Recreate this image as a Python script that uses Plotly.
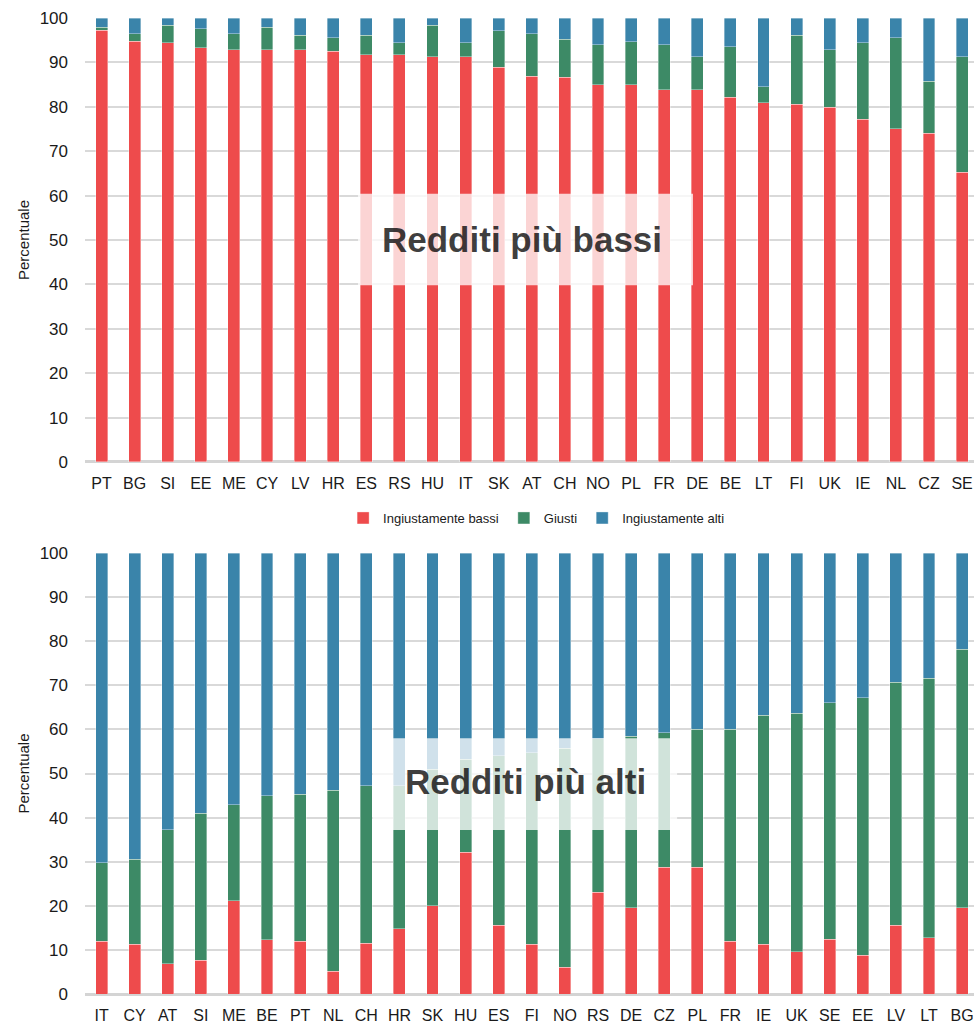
import plotly.graph_objects as go

# ---------------- data ----------------
top_countries = ["PT", "BG", "SI", "EE", "ME", "CY", "LV", "HR", "ES", "RS", "HU", "IT", "SK", "AT",
                 "CH", "NO", "PL", "FR", "DE", "BE", "LT", "FI", "UK", "IE", "NL", "CZ", "SE"]
top_low = [97.2, 94.8, 94.4, 93.3, 92.9, 92.9, 92.9, 92.5, 91.7, 91.7, 91.3, 91.3, 88.9, 86.9,
           86.6, 85.0, 85.0, 83.8, 83.8, 82.1, 80.9, 80.6, 79.9, 77.2, 75.1, 74.0, 65.3]
top_fair = [0.7, 1.6, 4.0, 4.3, 3.5, 5.0, 3.2, 3.1, 4.4, 2.7, 7.1, 3.1, 8.2, 9.5,
            8.6, 9.0, 9.7, 10.2, 7.5, 11.4, 3.6, 15.5, 13.0, 17.2, 20.5, 11.7, 26.0]
top_high = [2.1, 3.6, 1.6, 2.4, 3.6, 2.1, 3.9, 4.4, 3.9, 5.6, 1.6, 5.6, 2.9, 3.6,
            4.8, 6.0, 5.3, 6.0, 8.7, 6.5, 15.5, 3.9, 7.1, 5.6, 4.4, 14.3, 8.7]

bot_countries = ["IT", "CY", "AT", "SI", "ME", "BE", "PT", "NL", "CH", "HR", "SK", "HU", "ES", "FI",
                 "NO", "RS", "DE", "CZ", "PL", "FR", "IE", "UK", "SE", "EE", "LV", "LT", "BG"]
bot_low = [12.0, 11.3, 6.9, 7.6, 21.1, 12.3, 12.0, 5.2, 11.5, 14.8, 20.0, 32.2, 15.6, 11.3,
           6.1, 23.1, 19.6, 28.7, 28.7, 12.0, 11.3, 9.6, 12.4, 8.8, 15.6, 12.8, 19.6]
bot_fair = [17.8, 19.3, 30.4, 33.4, 21.8, 32.7, 33.3, 41.0, 35.7, 32.4, 31.0, 21.0, 38.4, 43.4,
            49.6, 34.8, 38.9, 30.6, 31.3, 48.0, 51.9, 54.1, 53.6, 58.4, 55.1, 58.8, 58.6]
bot_high = [70.2, 69.4, 62.7, 59.0, 57.1, 55.0, 54.7, 53.8, 52.8, 52.8, 49.0, 46.8, 46.0, 45.3,
            44.3, 42.1, 41.5, 40.7, 40.0, 40.0, 36.8, 36.3, 34.0, 32.8, 29.3, 28.4, 21.8]

series_names = ["Ingiustamente bassi", "Giusti", "Ingiustamente alti"]
colors = ["#EE4B4C", "#3D8A66", "#3A84AA"]
panel_titles = ["Redditi più bassi", "Redditi più alti"]

FONT = "Liberation Sans, Arial, Helvetica, sans-serif"

fig = go.Figure()

panels = [
    (top_countries, [top_low, top_fair, top_high], "x", "y", True),
    (bot_countries, [bot_low, bot_fair, bot_high], "x2", "y2", False),
]
for cats, vals, xa, ya, show in panels:
    for name, v, c in zip(series_names, vals, colors):
        fig.add_trace(go.Bar(
            x=cats, y=v, name=name, xaxis=xa, yaxis=ya,
            marker=dict(color=c, line=dict(color="rgba(255,255,255,0.45)", width=0.8)),
            showlegend=show, legendgroup=name,
        ))

xcommon = dict(
    type="category", range=[-0.5, 26.36], showgrid=False, showline=False, ticks="",
    tickfont=dict(family=FONT, size=16, color="#1a1a1a"), ticklabelstandoff=10,
    fixedrange=True,
)
ycommon = dict(
    range=[0, 100], dtick=10, showgrid=True, gridcolor="#d9d9d9", gridwidth=1.5,
    zeroline=True, zerolinecolor="#d4d4d4", zerolinewidth=2.5, showline=False, ticks="",
    tickfont=dict(family=FONT, size=17, color="#1a1a1a"), ticklabelstandoff=16,
    title=dict(text="Percentuale", font=dict(family=FONT, size=15, color="#1a1a1a"), standoff=6),
)

fig.update_layout(
    width=974, height=1024,
    margin=dict(l=85, r=0, t=18, b=30),
    paper_bgcolor="white", plot_bgcolor="white",
    barmode="stack", bargap=0.64,
    xaxis=dict(**xcommon, anchor="y"),
    xaxis2=dict(**xcommon, anchor="y2"),
    yaxis=dict(**ycommon, domain=[0.5451, 1.0], anchor="x"),
    yaxis2=dict(**ycommon, domain=[0.0, 0.4518], anchor="x2"),
    legend=dict(orientation="h", x=0.508, xanchor="center", y=0.4877, yanchor="middle",
                font=dict(family=FONT, size=13, color="#1a1a1a"), itemwidth=30,
                traceorder="normal", bgcolor="rgba(0,0,0,0)"),
    font=dict(family=FONT),
)

# translucent title boxes
fig.add_shape(type="rect", xref="x", yref="y", x0=7.75, x1=17.87, y0=39.8, y1=60.4,
              fillcolor="rgba(255,255,255,0.76)", line=dict(width=0), layer="above")
fig.add_shape(type="rect", xref="x2", yref="y2", x0=8.2, x1=17.39, y0=37.2, y1=58.0,
              fillcolor="rgba(255,255,255,0.76)", line=dict(width=0), layer="above")

fig.add_annotation(x=12.7, y=50.0, xref="x", yref="y", text="<b>" + panel_titles[0] + "</b>",
                   showarrow=False, font=dict(family=FONT, size=35, color="rgba(0,0,0,0.76)"))
fig.add_annotation(x=12.8, y=48.3, xref="x2", yref="y2", text="<b>" + panel_titles[1] + "</b>",
                   showarrow=False, font=dict(family=FONT, size=35, color="rgba(0,0,0,0.76)"))

fig.write_html(
    "out.html",
    config={"displayModeBar": False},
    post_script="document.body.style.margin='0';document.body.style.overflow='hidden';",
)
